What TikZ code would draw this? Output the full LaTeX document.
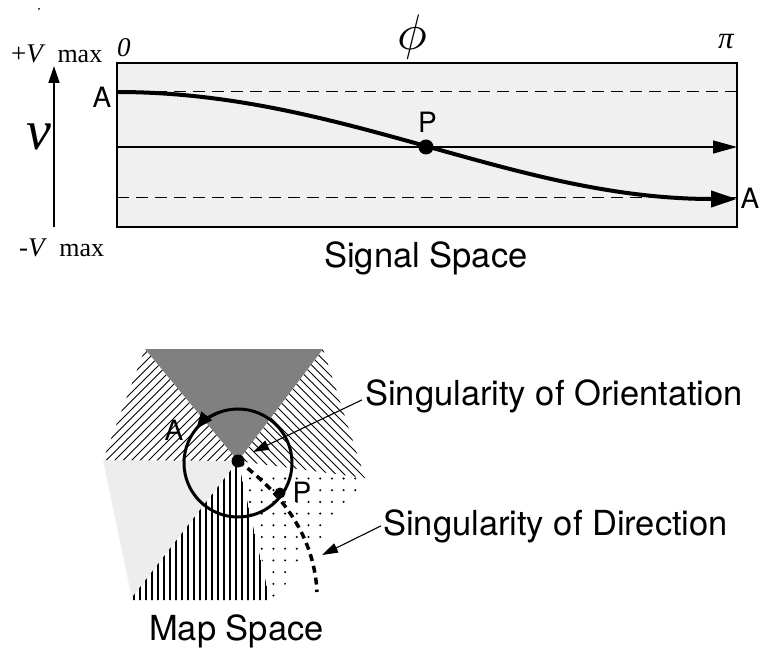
\documentclass[tikz,border=0pt]{standalone}
\usepackage{fontspec}
\usepackage{graphicx}
\setmainfont{TeX Gyre Heros}
\newfontfamily\tms{Liberation Serif}
\usetikzlibrary{arrows.meta}
\begin{document}
\begin{tikzpicture}[x=1pt,y=-1pt,
  lab/.style={font=\fontsize{34.5}{40}\selectfont, inner sep=0pt},
  ltr/.style={font=\fontsize{28}{32}\selectfont, inner sep=0pt},
  ser/.style={font=\tms\fontsize{27}{30}\selectfont, inner sep=0pt},
  frame/.style={line width=1.3pt},
  dsh/.style={line width=1pt, dash pattern=on 12pt off 7pt},
  ann/.style={line width=1.1pt, -{Triangle[length=16pt,width=10pt]}},
  hatch/.style={line width=0.9pt},
  vhatch/.style={line width=1.5pt},
  dotnode/.style={circle, fill, inner sep=0pt}]

\useasboundingbox (0,0) rectangle (764,650);
\fill (39,9) circle (1pt);

% ---------- Signal space ----------
\fill[black!6] (117,63) rectangle (737,227);
\draw[dsh] (117,92) -- (737,92);
\draw[dsh] (117,198) -- (737,198);
\draw[frame] (117,63) rectangle (737,227);
\coordinate (mL) at (117,147);
\coordinate (mR) at (737,147);
\draw[line width=1.3pt, -{Triangle[length=24pt,width=13pt]}] (mL) -- (mR);
\coordinate (cS) at (117,92);
\coordinate (cE) at (737,199);
\draw[line width=4pt, -{Triangle[length=26pt,width=16pt]}] (cS) .. controls (342,92) and (512,199) .. (cE);
\node[dotnode, minimum size=15pt] (Pdot) at (426,147) {};

\coordinate (axB) at (54,227);
\coordinate (axT) at (54,66);
\draw[line width=1.3pt, -{Triangle[length=17pt,width=11pt]}] (axB) -- (axT);

\node[ltr] (A1) at (102,97.5) {A};
\node[ltr] (A2) at (750,198.5) {A};
\node[ltr] (P1) at (427.5,122.5) {P};
\node[ser, anchor=base west] (vp) at (11,63) {+\textit{V}\hspace{12pt}{\fontsize{26}{30}\selectfont max}};
\node[ser, anchor=base west] (vm) at (19,257) {-\textit{V}\hspace{12pt}{\fontsize{26}{30}\selectfont max}};
\node[ser, anchor=base west] (zero) at (117,57) {\textit{0}};
\node[font=\tms\itshape\fontsize{31}{34}\selectfont, inner sep=0pt] (pi) at (726,41.5) {π};
\node[inner sep=0pt] (phi) at (412,37) {\scalebox{5}{$\phi$}};
\node[font=\tms\itshape\fontsize{56}{60}\selectfont, inner sep=0pt] (v) at (39,137) {v};
\node[lab, anchor=base west] (ss) at (324,268) {Signal Space};

% ---------- Map space ----------
\coordinate (C) at (238,461);
\fill[black!7] (103,460) -- (C) -- (132,599) -- cycle;
\begin{scope}
  \clip (103,460) -- (145,349) -- (C) -- cycle;
  \foreach \s in {490,498.5,...,712} \draw[hatch] (\s-470,470) -- ++(160,-160);
\end{scope}
\begin{scope}
  \clip (323,349) -- (365,478) -- (C) -- cycle;
  \foreach \d in {-232,-223.5,-215,...,-18} \draw[hatch] (\d+330,330) -- ++(160,160);
\end{scope}
\begin{scope}
  \clip (C) -- (270,600) -- (130,600) -- cycle;
  \foreach \x in {128,134,...,272} \draw[vhatch] (\x,455) -- (\x,605);
\end{scope}
\begin{scope}
  \clip (C) -- (367,477) -- (272,602) -- cycle;
  \foreach \x in {250,261.7,...,372} \foreach \y in {478.5,490.2,...,602} \fill (\x,\y) circle (1.15pt);
\end{scope}
\fill[black!50] (145,349) -- (323,349) -- (C) -- cycle;

\coordinate (O) at (238,463);
\draw[line width=3pt] (O) circle (54pt);
\draw[line width=3pt, -{Triangle[length=17pt,width=13pt]}] (O) ++(110:54pt) arc (110:141:54pt);
\draw[line width=3.5pt, dash pattern=on 7pt off 5pt] (C) .. controls (275,488) and (314,530) .. (317,592);
\node[dotnode, minimum size=11pt] (P2dot) at (280,493) {};
\node[dotnode, minimum size=13pt] (Cdot) at (C) {};
\node[ltr] (A3) at (174,430) {A};
\node[ltr] (P2) at (302,492) {P};

\node[lab, anchor=base west] (so) at (365,405) {Singularity of Orientation};
\node[lab, anchor=base west] (sd) at (383,535) {Singularity of Direction};
\coordinate (soT) at (253,452);
\coordinate (sdT) at (322,555);
\draw[ann] ([xshift=-3pt,yshift=-4pt]so.west) -- (soT);
\draw[ann] ([xshift=-2pt]sd.west) -- (sdT);
\node[lab, anchor=base west] (ms) at (149,640) {Map Space};
\end{tikzpicture}
\end{document}
